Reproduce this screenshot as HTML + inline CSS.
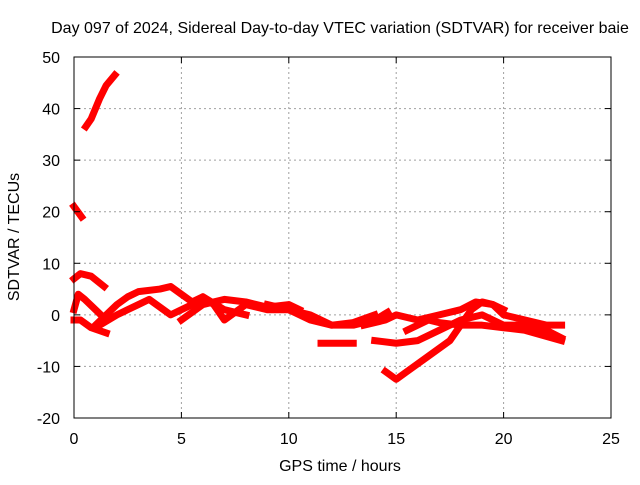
<!DOCTYPE html>
<html><head><meta charset="utf-8"><style>
body{margin:0;background:#fff}
svg text{font-family:"Liberation Sans",sans-serif;font-size:16px;fill:#000}
</style></head><body>
<svg id="c" width="640" height="480">
<rect width="640" height="480" fill="#fff"/>
<g id="grid"></g><g id="data"></g><g id="axes"></g>
<text x="340" y="33" text-anchor="middle">Day 097 of 2024, Sidereal Day-to-day VTEC variation (SDTVAR) for receiver baie</text>
<text x="340" y="471" text-anchor="middle">GPS time / hours</text>
<text transform="translate(19,237) rotate(-90)" text-anchor="middle">SDTVAR / TECUs</text>
</svg>
<script>
const xTicks=[0,5,10,15,20,25];
const yTicks=[-20,-10,0,10,20,30,40,50];
const trackA=[[0.55,36.5],[0.8,38],[1.2,42],[1.5,44.5],[1.9,46.5]];
const trackB=[[0,21],[0.35,19]];
const trackC=[[0,7],[0.3,8],[0.8,7.5],[1.4,5.5]];
const trackD=[[0,1],[0.2,4],[0.5,3],[1,1],[1.5,-1]];
const trackE=[[0,-1],[0.3,-1],[0.8,-2.5],[1.5,-3.5]];
const trackF=[[1,-2],[2,2],[2.5,3.5],[3,4.5],[4,5],[4.5,5.5],[5,4],[5.5,2.5],[6,3.5],[7,1],[8,0]];
const trackG=[[1,-2.5],[2,0],[3,2],[3.5,3],[4.5,0],[5.5,2],[6,3.5],[6.5,2],[7,-1],[8,2],[9,1],[10,1],[11,0],[12,-2],[13,-2],[14,-1],[14.6,0.5]];
const trackH=[[5,-1],[6,2],[7,3],[8,2.5],[9,1.5],[10,2],[10.5,1]];
const trackI=[[11.5,-5.5],[13,-5.5]];
const trackJ=[[14.5,-11],[15,-12.5],[15.5,-11],[16.5,-8],[17.5,-5],[18,-2],[18.5,1],[19,2.5],[19.5,2],[20,1]];
const trackK=[[14,-5],[15,-5.5],[16,-5],[17,-3],[18,-1],[19,0],[20,-2],[21,-2],[22,-3],[22.7,-4.5]];
const trackL=[[13.5,-2],[14.5,-1],[15,0],[16,-1],[17,0],[18,1],[18.7,2.5],[19.5,2],[20,0],[21,-1],[22,-2],[22.7,-2]];
const trackM=[[15.5,-3],[16.5,-1],[17,-1.5],[18,-2],[19,-2],[20,-2.5],[21,-3],[22.7,-5]];
const trackN=[[9,2],[10,1],[11,-1],[12,-2],[13,-1.5],[14,0]];
const tracks=[trackA,trackB,trackC,trackD,trackE,trackF,trackG,trackH,trackI,trackJ,trackK,trackL,trackM,trackN];
const X0=74,X1=611,Y0=418,Y1=57;
const sx=h=>X0+(h-0)/25*(X1-X0);
const sy=v=>Y0-(v+20)/70*(Y0-Y1);
const NS="http://www.w3.org/2000/svg";
function mk(tag,attrs,parent){const e=document.createElementNS(NS,tag);for(const k in attrs)e.setAttribute(k,attrs[k]);parent.appendChild(e);return e;}
const grid=document.getElementById('grid'),axes=document.getElementById('axes'),data=document.getElementById('data');
xTicks.forEach(t=>{
  if(t>0&&t<25){const l=mk('line',{x1:sx(t),x2:sx(t),y1:Y1,y2:Y0,stroke:'#a0a0a0','stroke-dasharray':'2,3'},grid);
  
  }
  mk('line',{x1:sx(t),x2:sx(t),y1:Y0,y2:Y0-6,stroke:'#000'},axes);
  mk('line',{x1:sx(t),x2:sx(t),y1:Y1,y2:Y1+6,stroke:'#000'},axes);
  const tx=mk('text',{x:sx(t),y:Y0+26,'text-anchor':'middle'},axes);tx.textContent=t;
  
  
});
yTicks.forEach(t=>{
  if(t>-20&&t<50){const l=mk('line',{x1:X0,x2:X1,y1:sy(t),y2:sy(t),stroke:'#a0a0a0','stroke-dasharray':'2,3'},grid);
  
  }
  mk('line',{x1:X0,x2:X0+6,y1:sy(t),y2:sy(t),stroke:'#000'},axes);
  mk('line',{x1:X1,x2:X1-6,y1:sy(t),y2:sy(t),stroke:'#000'},axes);
  const tx=mk('text',{x:X0-14,y:sy(t)+6,'text-anchor':'end'},axes);tx.textContent=t;
  
  
});
const fr=mk('rect',{x:X0,y:Y1,width:X1-X0,height:Y0-Y1,fill:'none',stroke:'#000'},axes);


tracks.forEach(tr=>{
  const p=mk('polyline',{points:tr.map(d=>sx(d[0])+','+sy(d[1])).join(' '),fill:'none',stroke:'#ff0000','stroke-width':7,'stroke-linejoin':'round','stroke-linecap':'square'},data);
  
  
});
</script>
</body></html>
